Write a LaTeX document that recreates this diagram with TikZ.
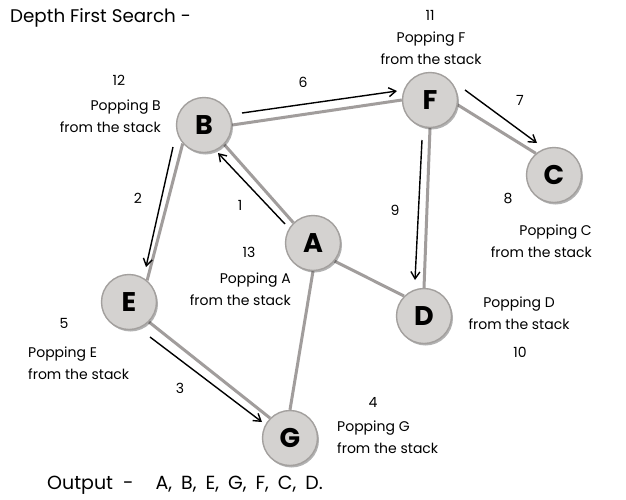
\documentclass[tikz,border=0pt]{standalone}
\usepackage{fontspec}
\setmainfont{Poppins}
\usetikzlibrary{arrows.meta, calc, shadows, backgrounds}
\definecolor{cnode}{HTML}{D4D2D0}
\definecolor{crim}{HTML}{A3A09E}
\definecolor{cedge}{HTML}{A19D9C}
\tikzset{
  every picture/.style={x=1pt, y=-1pt},
  vtx/.style={circle, draw=crim, fill=cnode, line width=1.4pt, minimum size=55pt, inner sep=0pt,
    font=\fontsize{27}{27}\selectfont\bfseries,
    drop shadow={shadow xshift=1.5pt, shadow yshift=-2pt, opacity=0.3, fill=black}},
  link/.style={draw=cedge, line width=3pt},
  flow/.style={-{Straight Barb[length=7pt, width=9pt]}, line width=1.4pt},
  num/.style={font=\fontsize{14}{16}\selectfont, inner sep=0pt},
  pop/.style={font=\fontsize{14}{21.5}\selectfont, inner sep=0pt, align=#1},
  pop/.default=center,
  heading/.style={font=\fontsize{18.3}{22}\selectfont, inner sep=0pt, anchor=west},
}
\begin{document}
\begin{tikzpicture}
  \useasboundingbox (0,0) rectangle (626,499);
  % vertices
  \node[vtx] (B) at (204,125) {B};
  \node[vtx] (F) at (430,100) {F};
  \node[vtx] (C) at (554,175) {C};
  \node[vtx] (A) at (313,243) {A};
  \node[vtx] (E) at (129,302) {E};
  \node[vtx] (D) at (424,316) {D};
  \node[vtx] (G) at (290,438) {G};
  % graph edges
  \begin{scope}[on background layer]
    \fill[white] (0,0) rectangle (626,499);
    \draw[link] (B.east) -- (F.west);
    \draw[link] (F.-10) -- (C.130);
    \draw[link] (F.south) -- (D.north);
    \draw[link] (B.-44) -- (A.134);
    \draw[link] (B.-139) -- (E.50);
    \draw[link] (A.-40) -- (D.135);
    \draw[link] (A.south) -- (G.north);
    \draw[link] (E.-45) -- (G.135);
  \end{scope}
  % traversal order
  \draw[flow] ($(A)+(-28,-19)$) -- ($(B)+(14,28)$);
  \draw[flow] ($(B)+(-31,22)$) -- ($(E)+(17,-35)$);
  \draw[flow] ($(E)+(21,35)$) -- ($(G)+(-28,-16)$);
  \draw[flow] ($(B)+(38,-12)$) -- ($(F)+(-33,-9)$);
  \draw[flow] ($(F)+(35,-10)$) -- ($(C)+(-17,-32)$);
  \draw[flow] ($(F)+(-8,40)$) -- ($(D)+(-9,-36)$);
  % step numbers
  \node[num] (n1) at (240,205) {1};
  \node[num] (n2) at (138,198) {2};
  \node[num] (n3) at (180,388) {3};
  \node[num] (n4) at (373,402) {4};
  \node[num] (n5) at (64,323) {5};
  \node[num] (n6) at (303,82) {6};
  \node[num] (n7) at (520,100) {7};
  \node[num] (n8) at (508,198) {8};
  \node[num] (n9) at (395,210) {9};
  \node[num] (n10) at (520,352) {10};
  \node[num] (n11) at (430,15) {11};
  \node[num] (n12) at (119,80) {12};
  \node[num] (n13) at (249,252) {13};
  % stack notes
  \node[pop=right, anchor=east] (popB) at (161,116) {Popping B\\from the stack};
  \node[pop] (popF) at (431,48) {Popping F\\from the stack};
  \node[pop=right, anchor=east] (popC) at (592,241) {Popping C\\from the stack};
  \node[pop=right, anchor=east] (popA) at (291,289) {Popping A\\from the stack};
  \node[pop] (popD) at (519,313) {Popping D\\from the stack};
  \node[pop=left, anchor=west] (popE) at (28,363) {Popping E\\from the stack};
  \node[pop=left, anchor=west] (popG) at (337,437) {Popping G\\from the stack};
  % title and result
  \node[heading] (title) at (10,18) {Depth First Search -};
  \node[heading, font=\fontsize{19}{22}\selectfont] (result) at (47,485)
    {Output\hspace{10pt}-\hspace{22pt}A,\hspace{9pt}B,\hspace{9pt}E,\hspace{9pt}G,\hspace{9pt}F,\hspace{9pt}C,\hspace{9pt}D.};
\end{tikzpicture}
\end{document}
